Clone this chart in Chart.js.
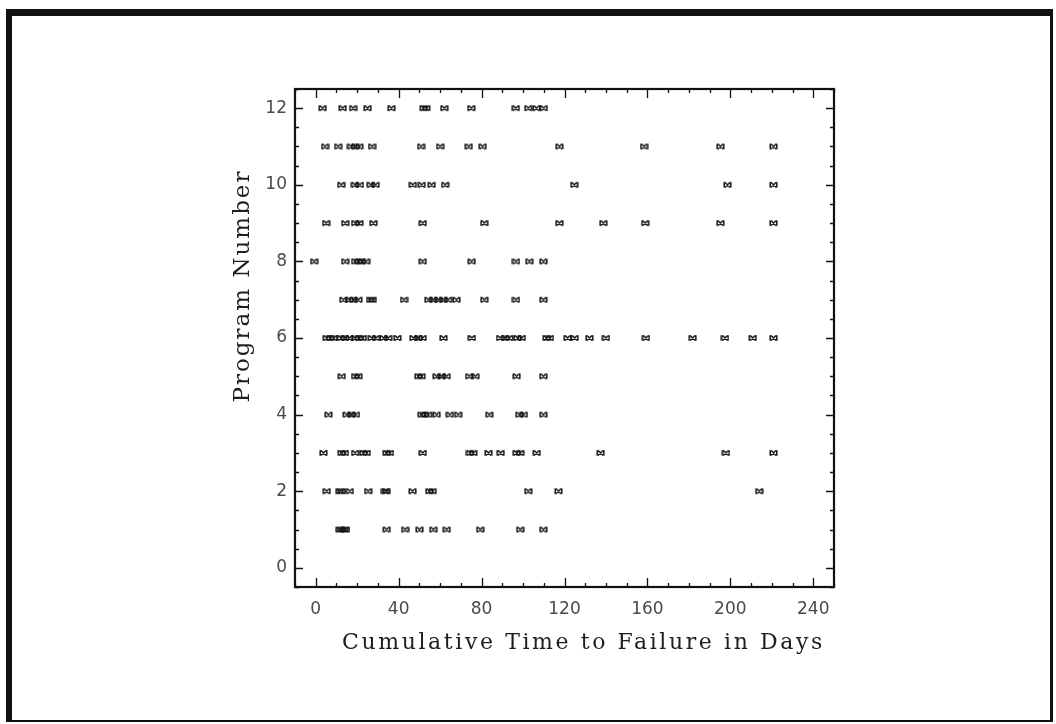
<!DOCTYPE html>
<html>
<head>
<meta charset="utf-8">
<script src="https://cdn.jsdelivr.net/npm/chart.js@4.4.1/dist/chart.umd.min.js"></script>
<style>
  html, body { margin: 0; padding: 0; background: #fff; }
  #wrap { position: relative; width: 1056px; height: 724px; }
  #frame {
    position: absolute; left: 6px; top: 9px; right: 3px; bottom: 2px;
    border-left: 6px solid #111; border-top: 7px solid #111;
    border-right: 3px solid #111; border-bottom: 2px solid #111;
    pointer-events: none;
  }
</style>
</head>
<body>
<div id="wrap">
  <canvas id="failures" width="1056" height="724"></canvas>
  <div id="frame"></div>
</div>
<script>
// failure times (days) for each program
const program1  = [11.4, 12.5, 13.7, 14.6, 34.2, 43.1, 50, 56.7, 63.2, 79.3, 98.6, 109.8];
const program2  = [5.3, 11.4, 12.5, 16.5, 25.3, 33.4, 34.2, 46.7, 54.8, 56.4, 102.5, 117.1, 213.9];
const program3  = [3.7, 12.5, 14.1, 19, 23, 24.6, 34.2, 35.8, 51.6, 74.4, 76, 83.3, 89.2, 96.9, 98.6, 106.6, 137.4, 197.9, 220.8];
const program4  = [6.1, 14.9, 17.3, 19.4, 51.1, 52.7, 54.3, 58.3, 64.7, 68.7, 83.7, 98.2, 100.4, 109.8];
const program5  = [12.5, 19, 20.6, 49.5, 51.1, 58.3, 60.7, 63.2, 74, 77, 96.9, 109.8];
const program6  = [5.3, 6.9, 8.8, 12.1, 14.1, 16.2, 19, 20.9, 22.7, 27, 29.1, 32.6, 35, 39.4, 47.1, 49.5, 51.6,
                   61.6, 75.3, 88.9, 91.3, 93.4, 97.3, 99.4, 111.4, 113, 121.5, 124.9, 132, 140, 159.3, 181.8,
                   197.4, 210.8, 220.8];
const program7  = [13.3, 16.2, 18.1, 20.6, 26.2, 27.5, 42.6, 54.3, 56.7, 59.1, 61.5, 63.9, 67.9, 81.3, 96.6, 109.8];
const program8  = [-0.8, 14.2, 19, 20.6, 22.2, 24.3, 51.6, 75.2, 96.6, 103, 109.8];
const program9  = [5, 14.2, 19, 21, 27.8, 51.6, 81.3, 117.5, 138.7, 158.9, 195.2, 220.8];
const program10 = [12.3, 18.9, 21.3, 26.5, 28.9, 46.8, 51.1, 55.9, 62.4, 124.7, 198.6, 220.8];
const program11 = [4.5, 10.8, 17, 19, 21, 27.2, 50.8, 60, 73.8, 80.5, 117.5, 158.4, 195.2, 220.8];
const program12 = [3.3, 13, 18, 25, 36.5, 52, 53.3, 62, 75, 96.5, 102.5, 106.5, 110];

const programs = [program1, program2, program3, program4, program5, program6,
                  program7, program8, program9, program10, program11, program12];

const xTickLabels = [0, 40, 80, 120, 160, 200, 240];
const yTickLabels = [0, 2, 4, 6, 8, 10, 12];

const xTitle = 'Cumulative Time to Failure in Days';
const yTitle = 'Program Number';

const points = [];
programs.forEach((days, i) => {
  days.forEach(d => points.push({ x: d, y: i + 1 }));
});

// small bow-tie star used as the point marker
function makeMarker() {
  const c = document.createElement('canvas');
  c.width = 9; c.height = 8;
  const g = c.getContext('2d');
  g.strokeStyle = '#141414';
  g.lineWidth = 1.5;
  g.beginPath();
  g.moveTo(2, 1.5); g.lineTo(7, 6.5);
  g.moveTo(7, 1.5); g.lineTo(2, 6.5);
  g.moveTo(1.2, 1.2); g.lineTo(1.2, 6.8);
  g.moveTo(7.8, 1.2); g.lineTo(7.8, 6.8);
  g.stroke();
  return c;
}

// frame, inward tick marks on all four sides, axis titles
const framePlugin = {
  id: 'frame',
  afterDraw(chart) {
    const { ctx, chartArea: a, scales } = chart;
    const xs = scales.x, ys = scales.y;
    ctx.save();
    ctx.strokeStyle = '#111';
    ctx.lineWidth = 1.3;
    ctx.beginPath();
    for (let v = -10; v <= 250; v += 10) {
      const px = Math.round(xs.getPixelForValue(v)) + 0.5;
      const len = v % 40 === 0 ? 9 : 4;
      ctx.moveTo(px, a.bottom); ctx.lineTo(px, a.bottom - len);
      ctx.moveTo(px, a.top);    ctx.lineTo(px, a.top + len);
    }
    for (let v = -0.5; v <= 12.5; v += 0.5) {
      const py = Math.round(ys.getPixelForValue(v)) + 0.5;
      const len = v % 2 === 0 ? 8 : 4;
      ctx.moveTo(a.left, py);  ctx.lineTo(a.left + len, py);
      ctx.moveTo(a.right, py); ctx.lineTo(a.right - len, py);
    }
    ctx.stroke();

    ctx.lineWidth = 2.2;
    ctx.strokeRect(a.left, a.top, a.right - a.left, a.bottom - a.top);

    ctx.fillStyle = '#1e1e1e';
    ctx.textAlign = 'center';
    ctx.textBaseline = 'middle';
    ctx.font = '22px "DejaVu Serif"';
    ctx.letterSpacing = '2.6px';
    ctx.fillText(xTitle, (a.left + a.right) / 2 + 19, a.bottom + 56);

    ctx.translate(a.left - 52, (a.top + a.bottom) / 2 - 52);
    ctx.rotate(-Math.PI / 2);
    ctx.font = '23px "DejaVu Serif"';
    ctx.letterSpacing = '2px';
    ctx.fillText(yTitle, 0, 0);
    ctx.restore();
  }
};

const marker = makeMarker();

new Chart(document.getElementById('failures'), {
  type: 'scatter',
  data: {
    datasets: [{
      data: points,
      pointStyle: marker,
      pointRadius: 4,
      pointHoverRadius: 4
    }]
  },
  options: {
    responsive: false,
    animation: false,
    layout: { padding: { left: 235, right: 222, top: 89, bottom: 77 } },
    plugins: { legend: { display: false }, tooltip: { enabled: false } },
    scales: {
      x: {
        type: 'linear',
        min: -10, max: 250,
        grid: { display: false, drawTicks: false },
        border: { display: false },
        afterBuildTicks: s => { s.ticks = xTickLabels.map(v => ({ value: v })); },
        afterFit: s => { s.height = 60; },
        ticks: {
          padding: 12,
          color: '#4a4a4a',
          font: { family: '"DejaVu Sans"', size: 17 },
          maxRotation: 0
        }
      },
      y: {
        type: 'linear',
        min: -0.5, max: 12.5,
        grid: { display: false, drawTicks: false },
        border: { display: false },
        afterBuildTicks: s => { s.ticks = yTickLabels.map(v => ({ value: v })); },
        afterFit: s => { s.width = 60; },
        ticks: {
          padding: 8,
          color: '#4a4a4a',
          font: { family: '"DejaVu Sans"', size: 17 }
        }
      }
    }
  },
  plugins: [framePlugin]
});
</script>
</body>
</html>
